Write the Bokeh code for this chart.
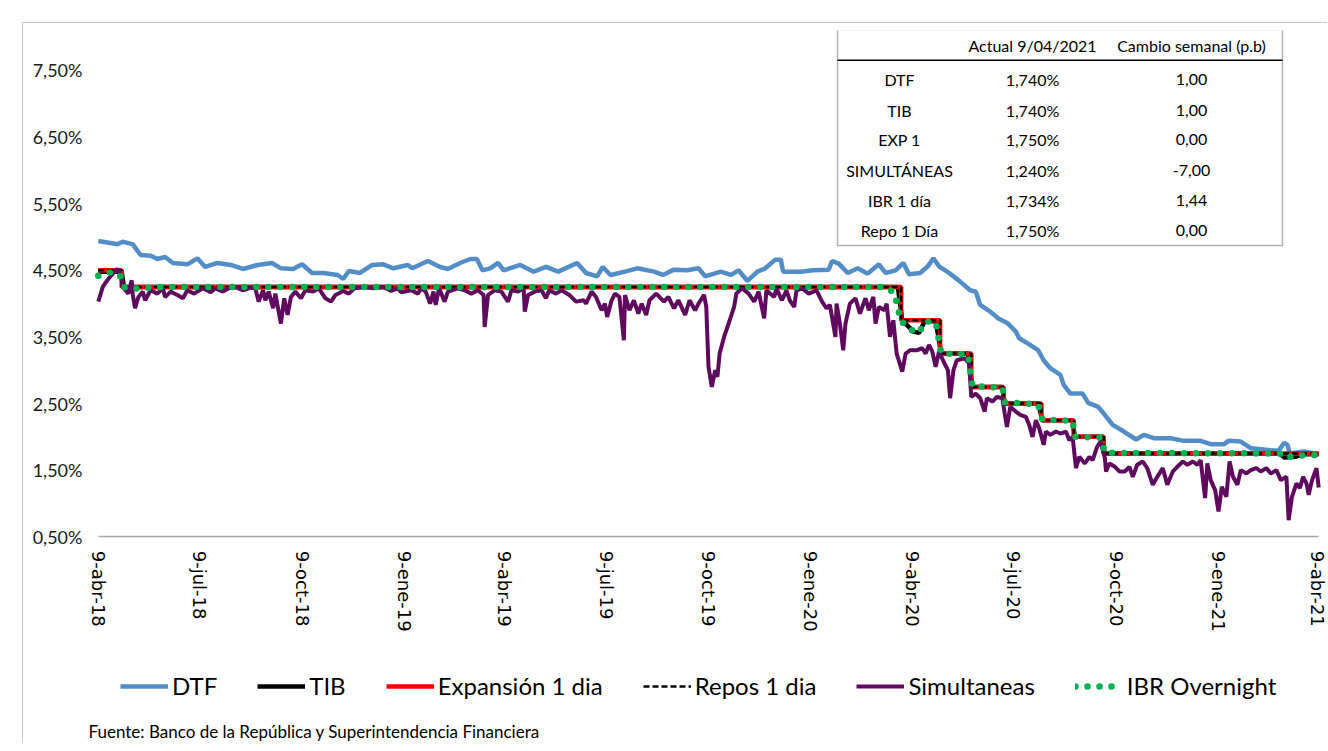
import pandas as pd
from bokeh.plotting import figure
from bokeh.models import Range1d, FixedTicker, Legend, LegendItem, Label, BoxAnnotation, Title
from bokeh.embed import file_html
from bokeh.resources import INLINE

# ---------------- data ----------------
START = "2018-04-09"  # days below are counted from 9-abr-2018
END = "2021-04-09"

dtf_day = [0, 11, 17, 22, 31, 38, 47, 53, 60, 67,
           80, 89, 96, 107, 119, 130, 143, 156, 164, 175,
           183, 192, 202, 215, 220, 225, 235, 246, 256, 265,
           278, 282, 292, 296, 307, 314, 325, 334, 340, 345,
           352, 359, 364, 379, 391, 402, 413, 430, 438, 448,
           453, 460, 473, 484, 499, 507, 517, 529, 539, 545,
           559, 568, 575, 583, 592, 599, 608, 613, 615, 631,
           642, 656, 659, 665, 673, 682, 691, 701, 707, 716,
           723, 728, 738, 745, 750, 755, 765, 774, 783, 788,
           792, 801, 808, 817, 824, 827, 835, 844, 849, 855,
           864, 867, 873, 884, 889, 898, 903, 911, 921, 932,
           939, 948, 963, 975, 990, 999, 1011, 1015, 1026, 1035,
           1053, 1060, 1065, 1068, 1070, 1083, 1096]
dtf_val = [4.94, 4.91, 4.89, 4.93, 4.89, 4.73, 4.72, 4.67, 4.70, 4.61,
           4.59, 4.68, 4.55, 4.61, 4.58, 4.52, 4.58, 4.61, 4.53, 4.52,
           4.59, 4.46, 4.46, 4.43, 4.37, 4.49, 4.46, 4.58, 4.59, 4.53,
           4.58, 4.53, 4.61, 4.64, 4.55, 4.52, 4.61, 4.67, 4.67, 4.50,
           4.53, 4.61, 4.50, 4.58, 4.48, 4.55, 4.48, 4.61, 4.46, 4.41,
           4.55, 4.43, 4.48, 4.53, 4.48, 4.43, 4.51, 4.50, 4.53, 4.41,
           4.48, 4.43, 4.50, 4.34, 4.48, 4.53, 4.66, 4.66, 4.48, 4.48,
           4.50, 4.51, 4.64, 4.60, 4.46, 4.53, 4.45, 4.59, 4.46, 4.50,
           4.61, 4.44, 4.46, 4.56, 4.68, 4.56, 4.45, 4.33, 4.20, 4.18,
           3.98, 3.88, 3.78, 3.70, 3.58, 3.48, 3.40, 3.30, 3.15, 3.03,
           2.93, 2.78, 2.65, 2.65, 2.51, 2.45, 2.35, 2.18, 2.08, 1.96,
           2.03, 1.98, 1.98, 1.94, 1.94, 1.89, 1.89, 1.94, 1.93, 1.83,
           1.80, 1.79, 1.91, 1.88, 1.75, 1.78, 1.74]

sim_day = [0, 4, 8, 13, 17, 20, 22, 27, 30, 31,
           33, 36, 40, 42, 47, 53, 58, 60, 65, 71,
           76, 80, 86, 94, 101, 105, 112, 117, 123, 130,
           137, 141, 144, 148, 150, 153, 157, 159, 164, 167,
           170, 173, 177, 182, 186, 193, 198, 204, 209, 213,
           220, 225, 230, 238, 247, 256, 263, 269, 272, 281,
           287, 290, 294, 298, 301, 303, 306, 311, 314, 323,
           329, 335, 341, 346, 347, 350, 356, 362, 368, 371,
           377, 382, 383, 386, 392, 398, 402, 405, 411, 416,
           423, 429, 436, 438, 443, 447, 452, 455, 457, 461,
           464, 468, 472, 473, 477, 481, 485, 488, 492, 495,
           501, 508, 512, 517, 521, 527, 531, 536, 539, 544,
           546, 548, 551, 554, 556, 558, 562, 564, 567, 571,
           573, 578, 584, 589, 593, 598, 600, 607, 609, 614,
           618, 621, 625, 627, 632, 638, 645, 650, 654, 657,
           662, 663, 666, 669, 671, 675, 680, 684, 689, 692,
           696, 698, 701, 706, 708, 711, 714, 717, 722, 725,
           729, 735, 740, 743, 746, 749, 752, 755, 760, 763,
           765, 768, 771, 778, 782, 784, 788, 792, 796, 798,
           803, 807, 812, 814, 816, 819, 824, 828, 833, 836,
           839, 842, 845, 849, 851, 855, 860, 864, 869, 872,
           875, 878, 881, 886, 890, 893, 897, 900, 904, 905,
           908, 913, 917, 922, 926, 929, 933, 938, 942, 947,
           951, 956, 960, 965, 969, 974, 978, 983, 987, 990,
           994, 996, 999, 1003, 1006, 1009, 1013, 1016, 1019, 1023,
           1026, 1031, 1035, 1040, 1044, 1049, 1053, 1058, 1062, 1067,
           1069, 1072, 1076, 1079, 1082, 1085, 1087, 1090, 1094, 1096]
sim_val = [4.03, 4.25, 4.35, 4.45, 4.52, 4.45, 4.25, 4.15, 4.35, 4.13,
           3.93, 4.10, 4.18, 4.05, 4.20, 4.15, 4.23, 4.10, 4.18, 4.13,
           4.08, 4.20, 4.15, 4.23, 4.17, 4.23, 4.18, 4.23, 4.25, 4.20,
           4.24, 4.23, 4.03, 4.20, 4.05, 4.18, 3.93, 4.15, 3.70, 4.08,
           3.83, 4.10, 4.18, 4.08, 4.20, 4.18, 4.23, 4.08, 4.03, 4.13,
           4.19, 4.15, 4.23, 4.25, 4.23, 4.25, 4.19, 4.23, 4.17, 4.20,
           4.15, 4.23, 4.18, 4.00, 4.18, 3.98, 4.23, 4.03, 4.18, 4.23,
           4.20, 4.15, 4.20, 4.13, 3.65, 4.13, 4.20, 4.18, 4.03, 4.20,
           4.18, 4.23, 3.88, 4.13, 4.18, 4.20, 4.08, 4.20, 4.15, 4.20,
           4.13, 4.03, 4.05, 4.00, 4.18, 4.10, 3.90, 4.00, 3.80, 4.05,
           4.15, 4.10, 3.45, 4.13, 3.90, 4.05, 3.85, 4.00, 3.83, 4.05,
           4.15, 4.03, 4.10, 3.93, 4.05, 3.83, 4.05, 3.90, 4.00, 4.13,
           3.95, 3.05, 2.75, 3.00, 2.90, 3.25, 3.50, 3.60, 3.75, 3.95,
           4.15, 4.23, 4.15, 4.03, 4.18, 3.78, 4.20, 4.10, 4.23, 4.05,
           4.20, 4.05, 3.95, 4.20, 4.23, 4.15, 4.20, 4.03, 3.93, 3.98,
           3.50, 4.00, 3.70, 3.30, 3.70, 4.00, 4.08, 3.85, 4.08, 3.90,
           4.10, 3.70, 3.95, 3.90, 4.00, 3.50, 3.75, 3.25, 2.98, 3.25,
           3.30, 3.30, 3.33, 3.25, 3.38, 3.28, 3.05, 3.28, 3.10, 3.00,
           2.58, 3.00, 3.15, 3.18, 3.10, 2.60, 2.65, 2.58, 2.38, 2.58,
           2.53, 2.60, 2.58, 2.35, 2.15, 2.45, 2.38, 2.33, 2.30, 2.18,
           2.00, 2.25, 2.13, 1.88, 2.08, 2.03, 2.08, 2.05, 2.08, 1.95,
           2.00, 1.53, 1.70, 1.60, 1.70, 1.65, 1.85, 1.93, 1.68, 1.48,
           1.60, 1.55, 1.48, 1.48, 1.55, 1.40, 1.58, 1.63, 1.53, 1.28,
           1.40, 1.53, 1.28, 1.48, 1.55, 1.63, 1.58, 1.63, 1.58, 1.65,
           1.08, 1.60, 1.35, 1.20, 0.88, 1.25, 1.10, 1.63, 1.40, 1.28,
           1.50, 1.45, 1.50, 1.53, 1.48, 1.53, 1.45, 1.50, 1.35, 1.40,
           0.75, 1.10, 1.30, 1.23, 1.40, 1.30, 1.13, 1.35, 1.53, 1.24]

# policy-rate operations (Expansión 1 día and Repos 1 día): value from each date on
policy_dates = ["2018-04-09", "2018-04-30", "2020-03-30", "2020-05-04", "2020-06-01",
                "2020-06-30", "2020-08-03", "2020-09-01", "2020-09-28", "2021-04-09"]
policy_rate = [4.50, 4.25, 3.75, 3.25, 2.75, 2.50, 2.25, 2.00, 1.75, 1.75]

tib_dates = ["2018-04-09", "2018-04-30", "2018-05-02", "2020-03-27", "2020-03-31",
             "2020-04-03", "2020-04-10", "2020-04-15", "2020-04-20", "2020-04-30",
             "2020-05-05", "2020-05-29", "2020-06-02", "2020-06-29", "2020-07-01",
             "2020-07-31", "2020-08-04", "2020-08-31", "2020-09-02", "2020-09-25",
             "2020-09-29", "2021-03-05", "2021-03-09", "2021-03-19", "2021-03-26",
             "2021-04-09"]
tib_val = [4.48, 4.48, 4.25, 4.25, 3.75,
           3.70, 3.58, 3.56, 3.73, 3.74,
           3.25, 3.25, 2.75, 2.75, 2.50,
           2.50, 2.25, 2.25, 2.00, 2.00,
           1.75, 1.75, 1.69, 1.70, 1.74,
           1.74]

ibr_dates = ["2018-04-09", "2018-04-20", "2018-04-28", "2018-05-02", "2018-05-08",
             "2018-06-01", "2019-06-01", "2020-03-16", "2020-03-24", "2020-03-30",
             "2020-04-03", "2020-04-10", "2020-04-15", "2020-04-20", "2020-04-30",
             "2020-05-05", "2020-05-29", "2020-06-02", "2020-06-29", "2020-07-01",
             "2020-07-31", "2020-08-04", "2020-08-31", "2020-09-02", "2020-09-25",
             "2020-09-29", "2021-03-05", "2021-03-09", "2021-03-19", "2021-03-26",
             "2021-04-09"]
ibr_val = [4.42, 4.47, 4.44, 4.25, 4.22,
           4.25, 4.25, 4.25, 4.16, 3.72,
           3.70, 3.58, 3.56, 3.73, 3.73,
           3.25, 3.24, 2.76, 2.74, 2.52,
           2.49, 2.26, 2.24, 2.00, 1.99,
           1.76, 1.75, 1.69, 1.71, 1.72,
           1.73]

ytick_vals = [0.5, 1.5, 2.5, 3.5, 4.5, 5.5, 6.5, 7.5]
ytick_labels = ["0,50%", "1,50%", "2,50%", "3,50%", "4,50%", "5,50%", "6,50%", "7,50%"]

xtick_dates = ["2018-04-09", "2018-07-09", "2018-10-09", "2019-01-09", "2019-04-09",
               "2019-07-09", "2019-10-09", "2020-01-09", "2020-04-09", "2020-07-09",
               "2020-10-09", "2021-01-09", "2021-04-09"]
xtick_labels = ["9-abr-18", "9-jul-18", "9-oct-18", "9-ene-19", "9-abr-19",
                "9-jul-19", "9-oct-19", "9-ene-20", "9-abr-20", "9-jul-20",
                "9-oct-20", "9-ene-21", "9-abr-21"]

table_headers = ["Actual 9/04/2021", "Cambio semanal (p.b)"]
table_rows = ["DTF", "TIB", "EXP 1", "SIMULTÁNEAS", "IBR 1 día", "Repo 1 Día"]
table_actual = ["1,740%", "1,740%", "1,750%", "1,240%", "1,734%", "1,750%"]
table_change = ["1,00", "1,00", "0,00", "-7,00", "1,44", "0,00"]

source_text = "Fuente: Banco de la República y Superintendencia Financiera"

# ---------------- helpers ----------------
t0 = pd.Timestamp(START)


def from_days(days):
    return [t0 + pd.Timedelta(days=int(d)) for d in days]


def to_dt(strs):
    return [pd.Timestamp(s) for s in strs]


def ms(s):
    return int(pd.Timestamp(s).value // 10**6)


FONT = "Lato"

# page layout: canvas origin at (23, 23); frame x 90..1326, y 30..717
MB_LEFT = 67
FL, FB = 23 + MB_LEFT, 717
PAD = pd.Timedelta(days=7)          # room so the first/last date labels are not clipped
PX_PER_UNIT = (537 - 30) / (8.1 - 0.5)
y_low = 0.5 - (FB - 537) / PX_PER_UNIT

p = figure(width=1305, height=720, x_axis_type="datetime",
           output_backend="svg", toolbar_location=None,
           x_range=Range1d(pd.Timestamp(START) - PAD, pd.Timestamp(END) + PAD),
           y_range=Range1d(y_low, 8.1),
           min_border_left=MB_LEFT, min_border_right=2, min_border_top=7,
           min_border_bottom=0,
           styles={"margin-left": "22px", "margin-top": "22px",
                   "border-left": "1px solid #c8c8c8",
                   "border-top": "1px solid #c8c8c8"})
p.outline_line_color = None
p.xgrid.visible = False
p.ygrid.visible = False
p.background_fill_color = "white"
p.border_fill_color = "white"

# axes
p.yaxis.ticker = FixedTicker(ticks=ytick_vals)
p.yaxis.major_label_overrides = {v: l for v, l in zip(ytick_vals, ytick_labels)}
p.yaxis.axis_line_color = None
p.yaxis.major_tick_line_color = None
p.yaxis.major_tick_out = 0
p.yaxis.major_tick_in = 0
p.yaxis.minor_tick_line_color = None
p.yaxis.major_label_text_font = FONT
p.yaxis.major_label_text_font_size = "18px"
p.yaxis.major_label_text_color = "#1a1a1a"
p.yaxis.major_label_standoff = 8

xt = [ms(d) for d in xtick_dates]
p.xaxis.ticker = FixedTicker(ticks=xt)
p.xaxis.major_label_overrides = {v: l for v, l in zip(xt, xtick_labels)}
p.xaxis.fixed_location = 0.5          # the date axis sits on the 0,50% level
p.xaxis.bounds = (ms(START), ms(END))
p.xaxis.axis_line_color = "#a6a6a6"
p.xaxis.axis_line_width = 1.5
p.xaxis.major_tick_line_color = None
p.xaxis.major_tick_out = 0
p.xaxis.major_tick_in = 0
p.xaxis.minor_tick_line_color = None
p.xaxis.major_label_orientation = "vertical"
p.xaxis.major_label_text_font = "DejaVu Sans"
p.xaxis.major_label_text_font_size = "18px"
p.xaxis.major_label_text_color = "black"
p.xaxis.major_label_standoff = 14

# series
r_dtf = p.line(from_days(dtf_day), dtf_val, line_color="#538DC8", line_width=4.5)
r_tib = p.line(to_dt(tib_dates), tib_val, line_color="black", line_width=4.5)
r_exp = p.step(to_dt(policy_dates), policy_rate, mode="after",
               line_color="#FF0000", line_width=4.5)
r_rep = p.step(to_dt(policy_dates), policy_rate, mode="after",
               line_color="black", line_width=2.5, line_dash="6 3")
r_sim = p.line(from_days(sim_day), sim_val, line_color="#5F0A5F", line_width=4)
r_ibr = p.line(to_dt(ibr_dates), ibr_val, line_color="#00B050", line_width=6.5,
               line_dash="0 12", line_cap="round")


def sx(X):
    return X - FL


def sy(Y):
    return FB - Y


legend = Legend(items=[
    LegendItem(label="DTF", renderers=[r_dtf]),
    LegendItem(label="TIB", renderers=[r_tib]),
    LegendItem(label="Expansión 1 dia", renderers=[r_exp]),
    LegendItem(label="Repos 1 dia", renderers=[r_rep]),
    LegendItem(label="Simultaneas", renderers=[r_sim]),
    LegendItem(label="IBR Overnight", renderers=[r_ibr]),
], orientation="horizontal", location=(sx(120), sy(701)),
    label_text_font=FONT, label_text_font_size="24px", label_text_color="black",
    glyph_width=48, glyph_height=26, label_standoff=4, spacing=40,
    padding=0, margin=0, border_line_color=None, background_fill_alpha=0)
p.add_layout(legend)

footer = Title(text=source_text, align="left", offset=88 - FL, standoff=4,
               text_font=FONT, text_font_size="17px", text_font_style="normal",
               text_color="black")
p.add_layout(footer, "below")

# ------------- table (screen px relative to the plot frame) -------------
p.add_layout(BoxAnnotation(left=sx(837), right=sx(1282), top=sy(30), bottom=sy(246),
                           left_units="screen", right_units="screen",
                           top_units="screen", bottom_units="screen",
                           fill_color="white", fill_alpha=1.0,
                           line_color="black", line_width=1.5))
p.add_layout(BoxAnnotation(left=sx(837), right=sx(1282), top=sy(60), bottom=sy(61.5),
                           left_units="screen", right_units="screen",
                           top_units="screen", bottom_units="screen",
                           fill_color="black", fill_alpha=1.0, line_color=None))

col_x = [899, 1032, 1191]
head_y = 46
row_y = [80, 111, 140, 171, 201, 231]


def add_text(txt, X, Y, size="16px", align="center"):
    p.add_layout(Label(x=sx(X), y=sy(Y), x_units="screen", y_units="screen",
                       text=txt, text_font=FONT, text_font_size=size,
                       text_color="black", text_align=align, text_baseline="middle"))


for h, X in zip(table_headers, col_x[1:]):
    add_text(h, X, head_y)
for i, Y in enumerate(row_y):
    add_text(table_rows[i], col_x[0], Y)
    add_text(table_actual[i], col_x[1], Y)
    add_text(table_change[i], col_x[2], Y)

open("out.html", "w").write(file_html(p, INLINE))
